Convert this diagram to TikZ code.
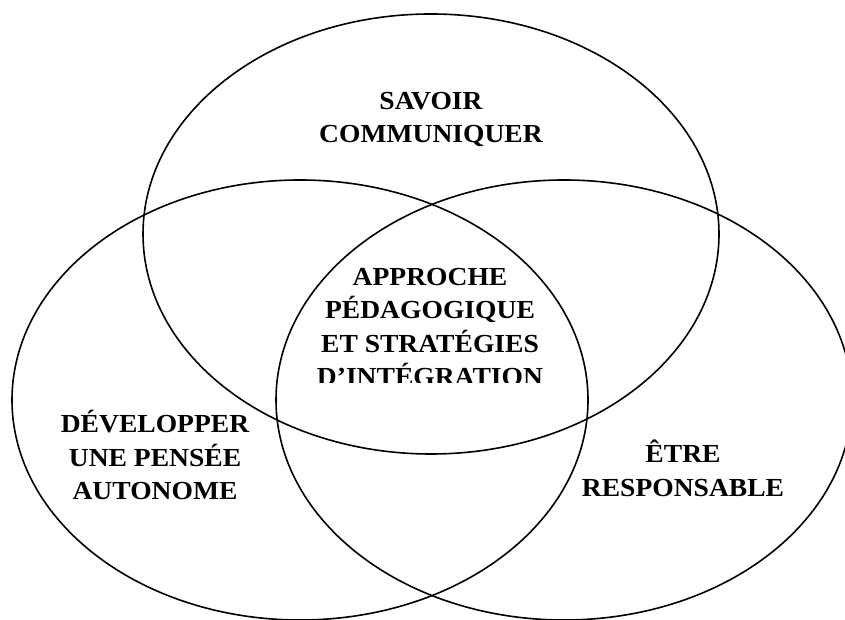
\documentclass[tikz,border=0pt]{standalone}
\usepackage{fontspec}
\setmainfont{Liberation Serif}[FakeStretch=1.06]
\usetikzlibrary{shapes.geometric}
\begin{document}
\begin{tikzpicture}[x=1pt,y=1pt,
  ring/.style={draw=black, line width=1.6pt, ellipse, inner sep=0pt,
    minimum width=576pt, minimum height=440pt},
  lbl/.style={align=center, font=\fontsize{26}{33.5}\selectfont\bfseries, inner sep=0pt}]
\fill[white] (0,0) rectangle (845,620);
\useasboundingbox (0,0) rectangle (845,620);
\clip (0,0) rectangle (845,620);
\node[ring] (top) at (431,386) {};
\node[ring] (left) at (300,220) {};
\node[ring] (right) at (564,220) {};
\node[lbl] (savoir) at (431,500.5) {SAVOIR\\COMMUNIQUER};
\begin{scope}
  \clip (250,237) rectangle (600,400);
  \node[lbl] (centre) at (430,293) {APPROCHE\\PÉDAGOGIQUE\\ET STRATÉGIES\\D’INTÉGRATION};
\end{scope}
\node[lbl] (dev) at (155,165) {DÉVELOPPER\\UNE PENSÉE\\AUTONOME};
\node[lbl] (etre) at (683,151.5) {ÊTRE\\RESPONSABLE};
\end{tikzpicture}
\end{document}
